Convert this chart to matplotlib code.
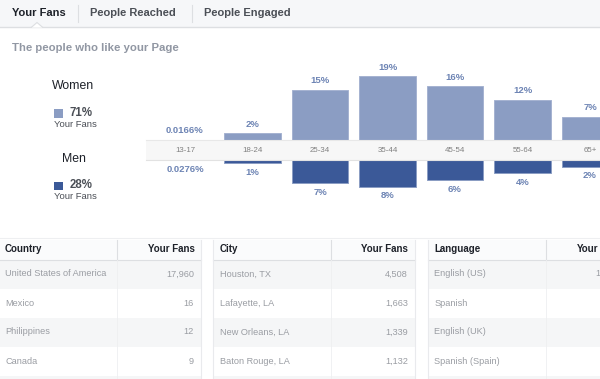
import numpy as np
import matplotlib.pyplot as plt
from matplotlib.patches import Rectangle, Polygon

plt.rcParams['font.family'] = ['Liberation Sans', 'DejaVu Sans']

# data
age_groups = ['13-17', '18-24', '25-34', '35-44', '45-54', '55-64', '65+']
women_pct = [0.0166, 2, 15, 19, 16, 12, 7]
men_pct = [0.0276, 1, 7, 8, 6, 4, 2]
women_total = '71%'
men_total = '28%'

tabs = ['Your Fans', 'People Reached', 'People Engaged']

countries = ['United States of America', 'Mexico', 'Philippines', 'Canada']
country_fans = ['17,960', '16', '12', '9']
cities = ['Houston, TX', 'Lafayette, LA', 'New Orleans, LA', 'Baton Rouge, LA']
city_fans = ['4,508', '1,663', '1,339', '1,132']
languages = ['English (US)', 'Spanish', 'English (UK)', 'Spanish (Spain)']
language_fans = ['1', '', '', '']

# colours
c_women = '#8b9dc3'
c_men = '#3b5998'
c_label = '#6d84b4'
c_dark = '#1d2129'
c_grey = '#4b4f56'
c_line = '#dddfe2'

W, H = 600, 379
fig = plt.figure(figsize=(6, 3.79), dpi=100)
bg = fig.add_axes([0, 0, 1, 1])
bg.set_xlim(0, W)
bg.set_ylim(H, 0)
bg.axis('off')


def px_axes(x0, y0, x1, y1):
    return fig.add_axes([x0 / W, 1 - y1 / H, (x1 - x0) / W, (y1 - y0) / H])


# tab bar
bg.add_patch(Rectangle((0, 0), W, 27, fc='#f6f7f9', ec='none'))
bg.plot([0, W], [27, 27], color=c_line, lw=1)
bg.add_patch(Polygon([(31.5, 27.6), (37, 22.5), (42.5, 27.6)], fc='white', ec='none', zorder=3))
bg.plot([31.5, 37, 42.5], [27.2, 22.5, 27.2], color=c_line, lw=0.8, zorder=4)
for x, t, col in zip([11.7, 90, 204], tabs, [c_dark, c_grey, c_grey]):
    bg.text(x, 13.5, t, fontsize=8, fontweight='bold', color=col, va='center')
for x in [78, 192]:
    bg.plot([x, x], [5, 22], color=c_line, lw=0.8)

bg.text(11.7, 48.3, 'The people who like your Page', fontsize=8.2, fontweight='bold',
        color='#9197a3', va='center')

# legend on the left
bg.text(52.3, 85.7, 'Women', fontsize=8.8, color=c_dark, va='center')
bg.add_patch(Rectangle((54.3, 109.3), 8.5, 8.5, fc=c_women, ec='none'))
bg.text(69.3, 112.5, women_total, fontsize=8.3, fontweight='bold', color=c_grey, va='center')
bg.text(53.7, 124.2, 'Your Fans', fontsize=6.8, color=c_grey, va='center')

bg.text(62, 159.3, 'Men', fontsize=8.8, color=c_dark, va='center')
bg.add_patch(Rectangle((54.3, 181.7), 8.5, 8.5, fc=c_men, ec='none'))
bg.text(69.3, 185.5, men_total, fontsize=8.3, fontweight='bold', color=c_grey, va='center')
bg.text(53.7, 196.7, 'Your Fans', fontsize=6.8, color=c_grey, va='center')

# age chart: women above the band, men below
x = np.arange(len(age_groups))
xlim = (-39 / 67.5, 415 / 67.5)
bw = 0.844

ax_w = px_axes(146, 40, 600, 140)
ax_w.set_xlim(*xlim)
ax_w.set_ylim(0, 100 / 3.35)
ax_w.axis('off')
ax_w.bar(x, women_pct, width=bw, color=c_women, edgecolor='#a6b3d1', linewidth=0.7)
for i, v in enumerate(women_pct):
    ax_w.annotate(f'{v:g}%', (i, v), xytext=(0, 6.5), textcoords='offset points',
                  ha='center', va='center', fontsize=6.8, fontweight='bold', color=c_label)

ax_m = px_axes(146, 160, 600, 240)
ax_m.set_xlim(*xlim)
ax_m.set_ylim(80 / 3.33, 0)
ax_m.axis('off')
ax_m.bar(x, men_pct, width=bw, color=c_men, edgecolor='#8b9dc3', linewidth=0.7)
for i, v in enumerate(men_pct):
    ax_m.annotate(f'{v:g}%', (i, v), xytext=(0, -6.5), textcoords='offset points',
                  ha='center', va='center', fontsize=6.8, fontweight='bold', color=c_label)

ax_b = px_axes(146, 140, 600, 160)
ax_b.set_xlim(*xlim)
ax_b.set_ylim(0, 1)
ax_b.set_xticks([])
ax_b.set_yticks([])
ax_b.set_facecolor('#f7f7f7')
for side in ['left', 'right']:
    ax_b.spines[side].set_visible(False)
ax_b.spines['top'].set_color('#e8e8e8')
ax_b.spines['bottom'].set_color('#e2e2e2')
ax_b.spines['top'].set_linewidth(0.8)
ax_b.spines['bottom'].set_linewidth(0.8)
for i, a in enumerate(age_groups):
    ax_b.text(i, 0.5, a, ha='center', va='center', fontsize=5.7, color='#808080')

# tables
bg.plot([0, W], [238.3, 238.3], color='#eeeff1', lw=0.8)
tables = [
    (-1.5, 201, 117, 'Country', 'Your Fans', countries, country_fans, 194),
    (213, 414.5, 331, 'City', 'Your Fans', cities, city_fans, 408),
    (428, 629, 546, 'Language', 'Your', languages, language_fans, 600),
]
top, head_h, row_h = 239.5, 20, 29
for L, R, S, title, fans_head, names, vals, vx in tables:
    bg.add_patch(Rectangle((L, top), R - L, head_h, fc='#fafbfc', ec='none'))
    for r in range(5):
        y0 = top + head_h + r * row_h
        if r % 2 == 0:
            bg.add_patch(Rectangle((L, y0), R - L, row_h, fc='#f5f6f7', ec='none'))
    bg.plot([L, R], [top + head_h, top + head_h], color=c_line, lw=0.8)
    bg.plot([L, L], [top, H], color='#e9eaed', lw=0.8)
    bg.plot([R, R], [top, H], color='#e9eaed', lw=0.8)
    bg.plot([S, S], [top, top + head_h], color=c_line, lw=0.8)
    bg.plot([S, S], [top + head_h, H], color='#eeeff1', lw=0.6)
    bg.text(L + 6.5, top + head_h / 2, title, fontsize=7, fontweight='bold',
            color=c_dark, va='center')
    # the last table runs off the right edge, only "Your" shows
    bg.text(min(R - 6.5, 598.5), top + head_h / 2, fans_head, fontsize=7, fontweight='bold',
            color=c_dark, va='center', ha='right')
    for r, (n, v) in enumerate(zip(names, vals)):
        yc = top + head_h + r * row_h + row_h / 2
        bg.text(L + 6.5, yc, n, fontsize=6.6, color='#9a9da3', va='center')
        bg.text(vx, yc, v, fontsize=6.6, color='#9a9da3', va='center', ha='right')

fig.savefig('out.png', dpi=100)
